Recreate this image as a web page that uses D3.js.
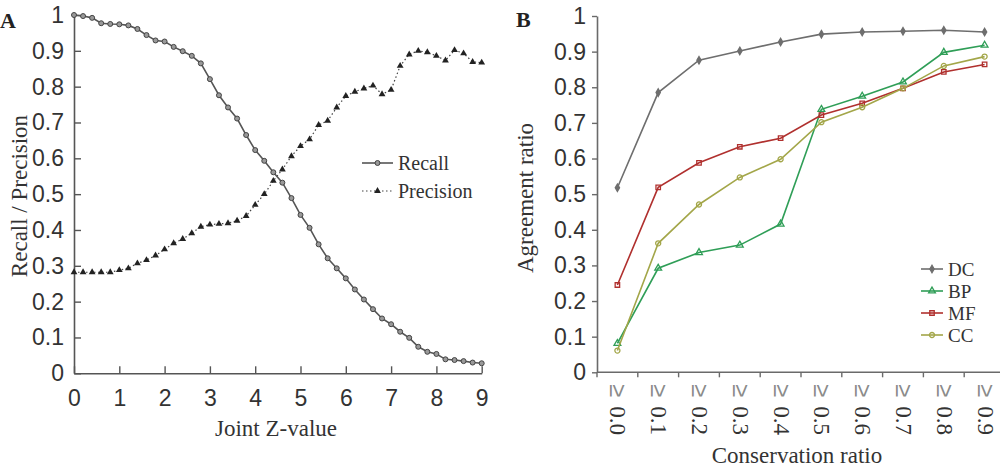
<!DOCTYPE html>
<html>
<head>
<meta charset="utf-8">
<script src="https://cdn.jsdelivr.net/npm/d3@7"></script>
<style>
  body { margin: 0; background: #fff; }
  svg { display: block; font-family: "Liberation Serif", "DejaVu Serif", serif; }
</style>
</head>
<body>
<svg id="chart" width="1000" height="470"></svg>
<script>
// panel A data
const zValues = [0, 0.2, 0.4, 0.6, 0.8, 1, 1.2, 1.4, 1.6, 1.8, 2, 2.2, 2.4, 2.6, 2.8, 3, 3.2, 3.4, 3.6, 3.8,
    4, 4.2, 4.4, 4.6, 4.8, 5, 5.2, 5.4, 5.6, 5.8, 6, 6.2, 6.4, 6.6, 6.8, 7, 7.2, 7.4, 7.6, 7.8,
    8, 8.2, 8.4, 8.6, 8.8, 9];
const recall = [1.000, 0.997, 0.992, 0.977, 0.975, 0.974, 0.971, 0.961, 0.944, 0.929,
    0.926, 0.911, 0.899, 0.886, 0.865, 0.821, 0.776, 0.742, 0.711, 0.665,
    0.623, 0.593, 0.561, 0.532, 0.489, 0.442, 0.406, 0.360, 0.321, 0.293,
    0.265, 0.234, 0.206, 0.179, 0.153, 0.137, 0.116, 0.099, 0.074, 0.060,
    0.054, 0.039, 0.037, 0.034, 0.030, 0.028];
const precision = [0.282, 0.282, 0.282, 0.282, 0.282, 0.288, 0.293, 0.307, 0.316, 0.329,
    0.346, 0.363, 0.375, 0.391, 0.409, 0.415, 0.417, 0.419, 0.426, 0.439,
    0.470, 0.500, 0.537, 0.569, 0.606, 0.634, 0.653, 0.693, 0.705, 0.742,
    0.774, 0.786, 0.795, 0.803, 0.779, 0.791, 0.858, 0.890, 0.900, 0.896,
    0.886, 0.873, 0.902, 0.893, 0.869, 0.867];
const zTicks = [0, 1, 2, 3, 4, 5, 6, 7, 8, 9];
const ratioTicks = [0, 0.1, 0.2, 0.3, 0.4, 0.5, 0.6, 0.7, 0.8, 0.9, 1];

// panel B data
const consCategories = ["0.0", "0.1", "0.2", "0.3", "0.4", "0.5", "0.6", "0.7", "0.8", "0.9"];
const dcValues = [0.518, 0.785, 0.876, 0.902, 0.927, 0.949, 0.955, 0.957, 0.960, 0.955];
const bpValues = [0.081, 0.292, 0.336, 0.357, 0.416, 0.738, 0.775, 0.815, 0.898, 0.918];
const mfValues = [0.245, 0.519, 0.588, 0.633, 0.657, 0.722, 0.755, 0.797, 0.843, 0.864];
const ccValues = [0.061, 0.362, 0.471, 0.547, 0.598, 0.702, 0.744, 0.797, 0.860, 0.886];
const seriesNames = ["DC", "BP", "MF", "CC"];

const svg = d3.select("#chart");
const TEXT = "#333";
const FS = "23px";

// ---------- Panel A ----------
const xA = d3.scaleLinear().domain([0, 9]).range([74, 481.7]);
const yA = d3.scaleLinear().domain([0, 1]).range([373.3, 15]);
const gA = svg.append("g");

svg.append("text").attr("x", 0).attr("y", 28).text("A")
    .style("font-size", "22px").style("font-weight", "bold").attr("fill", "#222");

const ratioFmt = d => d === 0 || d === 1 ? d3.format("d")(d) : d3.format(".1f")(d);

const axA_x = gA.append("g").attr("transform", `translate(0,${yA(0)})`)
    .call(d3.axisBottom(xA).tickValues(zTicks).tickFormat(d3.format("d")).tickSizeInner(-7).tickSizeOuter(0));
const axA_y = gA.append("g").attr("transform", `translate(${xA(0)},0)`)
    .call(d3.axisLeft(yA).tickValues(ratioTicks).tickFormat(ratioFmt).tickSizeInner(-7).tickSizeOuter(0));
[axA_x, axA_y].forEach(ax => {
    ax.select(".domain").attr("stroke", "#555").attr("stroke-width", 1.6);
    ax.selectAll(".tick line").attr("stroke", "#555").attr("stroke-width", 1.4);
    ax.selectAll("text").style("font-size", FS).attr("fill", TEXT).attr("font-family", null);
});
axA_x.selectAll("text").attr("dy", "0.71em").attr("y", 16);
axA_y.selectAll("text").attr("x", -10);

gA.append("text").attr("x", 276).attr("y", 436).attr("text-anchor", "middle")
    .style("font-size", FS).attr("fill", TEXT).text("Joint Z-value");
gA.append("text").attr("transform", "translate(27,196) rotate(-90)").attr("text-anchor", "middle")
    .style("font-size", FS).attr("fill", TEXT).text("Recall / Precision");

const lineA = d3.line().x((d, i) => xA(zValues[i])).y(d => yA(d));
gA.append("path").datum(precision).attr("d", lineA).attr("fill", "none")
    .attr("stroke", "#444").attr("stroke-width", 1.2).attr("stroke-dasharray", "1.5,2.5");
const tri = d3.symbol().type(d3.symbolTriangle).size(20);
gA.append("g").selectAll("path").data(precision).join("path")
    .attr("transform", (d, i) => `translate(${xA(zValues[i])},${yA(d)})`)
    .attr("d", tri).attr("fill", "#222");

gA.append("path").datum(recall).attr("d", lineA).attr("fill", "none")
    .attr("stroke", "#555").attr("stroke-width", 1.6);
gA.append("g").selectAll("circle").data(recall).join("circle")
    .attr("cx", (d, i) => xA(zValues[i])).attr("cy", d => yA(d)).attr("r", 2.5)
    .attr("fill", "#999").attr("stroke", "#444").attr("stroke-width", 1);

// legend A
const legA = gA.append("g").attr("transform", "translate(362,163)");
legA.append("line").attr("x1", 0).attr("x2", 31).attr("stroke", "#555").attr("stroke-width", 1.6);
legA.append("circle").attr("cx", 15.5).attr("r", 2.5).attr("fill", "#999").attr("stroke", "#444");
legA.append("text").attr("x", 36).attr("y", 7).style("font-size", "20px").attr("fill", TEXT).text("Recall");
legA.append("line").attr("x1", 0).attr("x2", 31).attr("y1", 28).attr("y2", 28)
    .attr("stroke", "#444").attr("stroke-width", 1.2).attr("stroke-dasharray", "1.5,2.5");
legA.append("path").attr("transform", "translate(15.5,28)").attr("d", tri).attr("fill", "#222");
legA.append("text").attr("x", 36).attr("y", 35).style("font-size", "20px").attr("fill", TEXT).text("Precision");

// ---------- Panel B ----------
const xB = d3.scaleBand().domain(consCategories).range([597, 1005]).padding(0);
const yB = d3.scaleLinear().domain([0, 1]).range([372.3, 16]);
const gB = svg.append("g");
const AXB = "#6a6a6a";

svg.append("text").attr("x", 516).attr("y", 27).text("B")
    .style("font-size", "22px").style("font-weight", "bold").attr("fill", "#222");

const axB_y = gB.append("g").attr("transform", `translate(${xB.range()[0]},0)`)
    .call(d3.axisLeft(yB).tickValues(ratioTicks).tickFormat(ratioFmt).tickSizeInner(5).tickSizeOuter(0).tickPadding(6));
axB_y.select(".domain").attr("stroke", AXB).attr("stroke-width", 1.6);
axB_y.selectAll(".tick line").attr("stroke", AXB).attr("stroke-width", 1.4);
axB_y.selectAll("text").style("font-size", FS).attr("fill", TEXT).attr("font-family", null);

// x axis of B: line, tick marks at band edges, rotated labels at band centres
gB.append("line").attr("x1", xB.range()[0]).attr("x2", 1000).attr("y1", yB(0)).attr("y2", yB(0))
    .attr("stroke", AXB).attr("stroke-width", 1.6);
gB.append("g").selectAll("line").data(consCategories).join("line")
    .attr("x1", d => xB(d)).attr("x2", d => xB(d)).attr("y1", yB(0)).attr("y2", yB(0) + 5)
    .attr("stroke", AXB).attr("stroke-width", 1.4);
gB.append("g").selectAll("text").data(consCategories).join("text")
    .attr("transform", d => `translate(${xB(d) + xB.bandwidth() / 2 - 7},384) rotate(90)`)
    .attr("fill", TEXT)
    .selectAll("tspan").data(d => ["\u2265", d]).join("tspan")
    .attr("dx", (d, i) => i ? 9 : 0)
    .attr("fill", (d, i) => i ? TEXT : "#8a8a8a")
    .style("font-size", (d, i) => i ? FS : "24px")
    .attr("font-family", (d, i) => i ? null : "Liberation Sans")
    .text(d => d);

gB.append("text").attr("x", 797).attr("y", 463).attr("text-anchor", "middle")
    .style("font-size", FS).attr("fill", TEXT).text("Conservation ratio");
gB.append("text").attr("transform", "translate(533,198) rotate(-90)").attr("text-anchor", "middle")
    .style("font-size", FS).attr("fill", TEXT).text("Agreement ratio");

const seriesB = [
    { name: "DC", values: dcValues, color: "#6e6e6e", shape: "diamond" },
    { name: "BP", values: bpValues, color: "#2f9e57", shape: "triangle" },
    { name: "MF", values: mfValues, color: "#b0302e", shape: "square" },
    { name: "CC", values: ccValues, color: "#a3a649", shape: "circle" }
];
const shapeOf = { diamond: d3.symbolDiamond, triangle: d3.symbolTriangle, square: d3.symbolSquare, circle: d3.symbolCircle };
const cx = c => xB(c) + xB.bandwidth() / 2;
const lineB = d3.line().x((d, i) => cx(consCategories[i])).y(d => yB(d));

function drawMarker(sel, s) {
    sel.attr("d", d3.symbol().type(shapeOf[s.shape]).size(s.shape === "diamond" ? 16 : 20))
        .attr("fill", s.shape === "diamond" ? s.color : "none")
        .attr("stroke", s.color).attr("stroke-width", 1.3);
}

seriesB.forEach(s => {
    gB.append("path").datum(s.values).attr("d", lineB).attr("fill", "none")
        .attr("stroke", s.color).attr("stroke-width", 1.6);
    gB.append("g").selectAll("path").data(s.values).join("path")
        .attr("transform", (d, i) => `translate(${cx(consCategories[i])},${yB(d)})`)
        .call(drawMarker, s);
});

// legend B
const legB = gB.append("g").attr("transform", "translate(921,269)");
seriesB.forEach((s, i) => {
    const row = legB.append("g").attr("transform", `translate(0,${i * 22})`);
    row.append("line").attr("x1", 0).attr("x2", 22).attr("stroke", s.color).attr("stroke-width", 1.6);
    row.append("path").attr("transform", "translate(11,0)").call(drawMarker, s);
    row.append("text").attr("x", 27).attr("y", 6.5).style("font-size", "19px").attr("fill", TEXT).text(seriesNames[i]);
});
</script>
</body>
</html>
